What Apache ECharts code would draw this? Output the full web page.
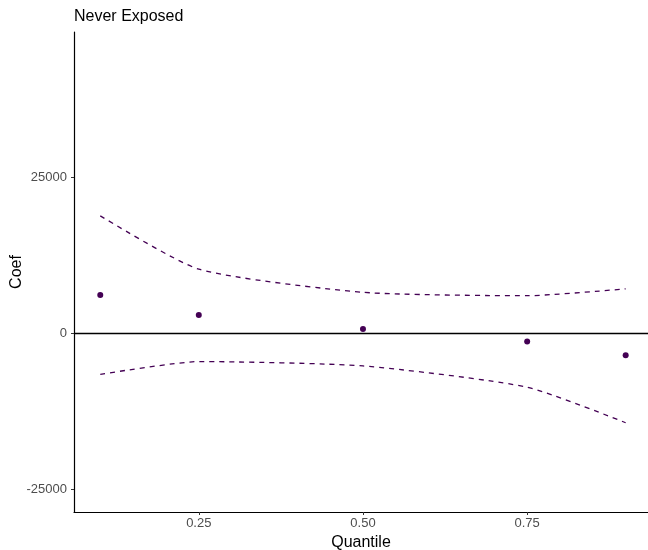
<!DOCTYPE html>
<html>
<head>
<meta charset="utf-8">
<script src="https://cdn.jsdelivr.net/npm/echarts@6/dist/echarts.min.js"></script>
<style>html,body{margin:0;padding:0;background:#fff;}#c{width:648px;height:550px;}</style>
</head>
<body>
<div id="c"></div>
<script>
const quantiles = [0.1, 0.25, 0.5, 0.75, 0.9];
const coef = [6150, 2950, 700, -1300, -3500];
const upper = [18850, 10300, 6600, 6050, 7150];
const lower = [-6550, -4500, -5200, -8600, -14300];
const xTicks = [0.25, 0.5, 0.75];
const yTicks = [-25000, 0, 25000];
const col = '#440154';

const chart = echarts.init(document.getElementById('c'), null, {renderer: 'canvas'});
const font = '"Liberation Sans", Arial, sans-serif';
chart.setOption({
  animation: false,
  backgroundColor: '#fff',
  title: {
    text: 'Never Exposed', left: 69, top: 4,
    textStyle: {fontFamily: font, fontSize: 16, fontWeight: 'normal', color: '#000'}
  },
  grid: {left: 74, right: 0, top: 32, bottom: 38, containLabel: false, outerBoundsMode: 'none'},
  xAxis: {
    type: 'value', min: 0.06, max: 0.934,
    name: 'Quantile', nameLocation: 'middle', nameGap: 23, nameMoveOverlap: false,
    nameTextStyle: {fontFamily: font, fontSize: 16, color: '#000'},
    axisLine: {show: true, onZero: false, lineStyle: {color: '#000', width: 1.2}},
    axisTick: {show: true, customValues: xTicks, length: 3, lineStyle: {color: '#333', width: 1}},
    axisLabel: {customValues: xTicks, fontFamily: font, fontSize: 13, color: '#4D4D4D', margin: 5,
      formatter: v => v.toFixed(2)},
    splitLine: {show: false}
  },
  yAxis: {
    type: 'value', min: -28600, max: 48300,
    name: 'Coef', nameLocation: 'middle', nameGap: 49, nameRotate: 90, nameMoveOverlap: false,
    nameTextStyle: {fontFamily: font, fontSize: 16, color: '#000'},
    axisLine: {show: true, onZero: false, lineStyle: {color: '#000', width: 1.2}},
    axisTick: {show: true, customValues: yTicks, length: 3, lineStyle: {color: '#333', width: 1}},
    axisLabel: {customValues: yTicks, fontFamily: font, fontSize: 13, color: '#4D4D4D', margin: 7,
      formatter: v => String(v)},
    splitLine: {show: false}
  },
  series: [
    {
      type: 'line', data: quantiles.map((q, i) => [q, upper[i]]),
      showSymbol: false, smooth: 0.2,
      lineStyle: {color: col, width: 1.3, type: [5, 5]},
      markLine: {
        silent: true, symbol: 'none', label: {show: false},
        lineStyle: {color: '#000', width: 1.3, type: 'solid'},
        data: [{yAxis: 0}]
      }
    },
    {
      type: 'line', data: quantiles.map((q, i) => [q, lower[i]]),
      showSymbol: false, smooth: 0.2,
      lineStyle: {color: col, width: 1.3, type: [5, 5]}
    },
    {
      type: 'scatter', data: quantiles.map((q, i) => [q, coef[i]]),
      symbolSize: 6, itemStyle: {color: col, opacity: 1}
    }
  ]
});
</script>
</body>
</html>
